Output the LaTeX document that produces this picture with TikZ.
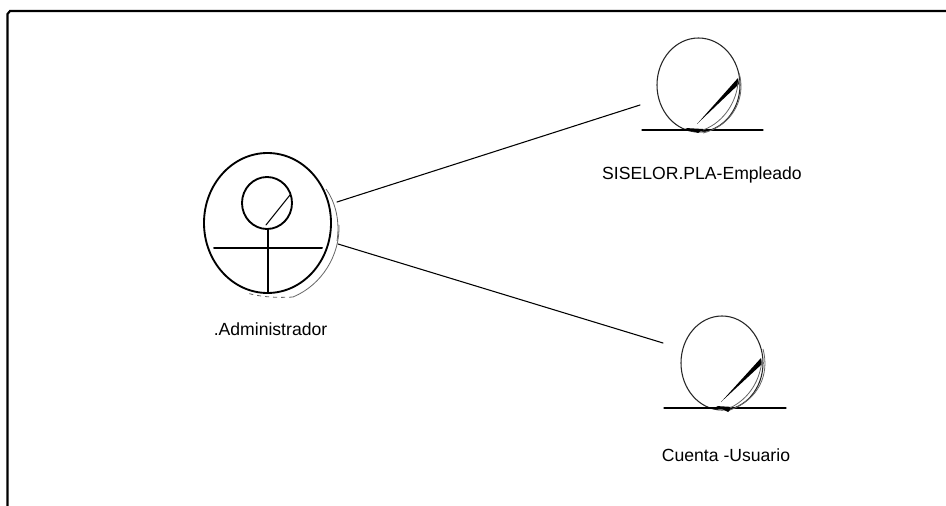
\documentclass[tikz,border=0pt]{standalone}
\usepackage{fontspec}
\usetikzlibrary{shapes.geometric}
\setmainfont{Liberation Sans}
\tikzset{
 px/.style={x=0.75pt,y=-0.75pt},
 inkline/.style={draw=black,line width=0.8pt,line cap=round},
 heavyline/.style={draw=black,line width=1.5pt,line cap=round},
 frameline/.style={draw=black,line width=1.6pt},
 faint/.style={draw=black!60,line width=0.6pt},
 lbl/.style={font=\fontsize{13.2pt}{15pt}\selectfont,inner sep=0pt,text=black},
 oval/.style={ellipse,draw=black,inner sep=0pt},
}
\begin{document}
\begin{tikzpicture}[px]
\useasboundingbox (0,0) rectangle (946,506);
\fill[white] (0,0) rectangle (946,506);
% frame
\draw[frameline] (7.5,506) -- (7.5,14) -- (10,11) -- (946,11);
% actor
\node[oval,line width=1.4pt,minimum width=95.25pt,minimum height=105pt] (admin) at (267.5,223) {};
\node[oval,line width=1.4pt,minimum width=37.5pt,minimum height=39pt] (head) at (267,203) {};
\coordinate (neck) at (268,229);
\coordinate (foot) at (268,292);
\coordinate (armL) at (214,248);
\coordinate (armR) at (322,248);
\draw[heavyline] (neck) -- (foot);
\draw[heavyline] (armL) -- (armR);
\draw[inkline] (266,225) -- (290,195);
\draw[faint] (326,189) .. controls (336,203) and (340,222) .. (337,241);
\draw[faint] (339,225) .. controls (340,255) and (322,285) .. (293,297);
\draw[faint,dashed] (293,297) .. controls (278,298) and (260,297) .. (247,293);
\node[lbl] (adminlbl) at (270.5,329) {.Administrador};
% entity 1
\node[oval,line width=0.8pt,draw=black!85,minimum width=62.25pt,minimum height=70.5pt] (emp) at (698.5,85) {};
\coordinate (e1L) at (642,130);
\coordinate (e1R) at (763,130);
\draw[inkline] (e1L) -- (e1R);
\fill (697,124) -- (738,78) -- (739,84) -- cycle;
\fill (685,128) -- (703,129) -- (698,133) -- cycle;
\draw[faint] (739,73) .. controls (746,95) and (735,125) .. (703,133);
\draw[faint] (738,82) .. controls (737,100) and (725,122) .. (703,130);
\node[lbl] (emplbl) at (702,175) {SISELOR.PLA-Empleado};
% entity 2
\node[oval,line width=0.8pt,draw=black!85,minimum width=61.5pt,minimum height=70.5pt] (cta) at (722,363) {};
\coordinate (e2L) at (664,408);
\coordinate (e2R) at (786,408);
\draw[inkline] (e2L) -- (e2R);
\fill (721,402) -- (761,358) -- (762,364) -- cycle;
\fill (716,406) -- (733,407) -- (728,412) -- cycle;
\draw[faint] (763,349) .. controls (770,375) and (758,400) .. (730,410);
\draw[faint] (762,360) .. controls (760,380) and (750,398) .. (730,408);
\node[lbl] (ctalbl) at (726,455) {Cuenta -Usuario};
% connectors
\coordinate (c1s) at (337,202);
\coordinate (c2s) at (338,244);
\coordinate (c1end) at (640,105);
\coordinate (c2end) at (663,343);
\draw[inkline] (c1s) -- (c1end);
\draw[inkline] (c2s) -- (c2end);
\end{tikzpicture}
\end{document}
